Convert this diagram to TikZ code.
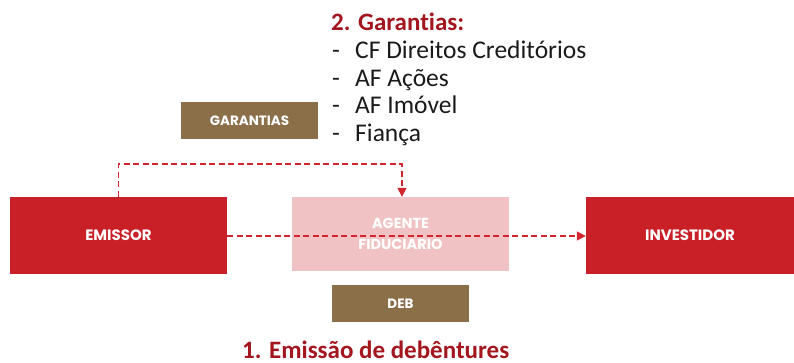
\documentclass[tikz,border=0pt]{standalone}
\usepackage{fontspec}
\setmainfont{Carlito}[Ligatures=NoCommon]
\newfontfamily\boxfont{Poppins}
\usetikzlibrary{arrows.meta}
\definecolor{boxred}{HTML}{C91F26}
\definecolor{boxpink}{HTML}{F0C2C4}
\definecolor{boxbrown}{HTML}{8B6F48}
\definecolor{titlered}{HTML}{A3161D}
\definecolor{linered}{HTML}{D0262F}
\definecolor{txtgray}{HTML}{1A1A1A}
\tikzset{
  partybox/.style={fill=boxred, draw=none, inner sep=0pt, text=white,
    font=\boxfont\bfseries\fontsize{15}{16}\selectfont, align=center},
  agentbox/.style={fill=boxpink, draw=none, inner sep=0pt, text=white,
    font=\boxfont\bfseries\fontsize{14.5}{21}\selectfont, align=center},
  tagbox/.style={fill=boxbrown, draw=none, inner sep=0pt, text=white,
    font=\boxfont\bfseries\fontsize{13.5}{14}\selectfont, align=center},
  flow/.style={draw=linered, line width=1.6pt, dash pattern=on 6pt off 3.5pt,
    -{Triangle[length=9pt,width=9pt]}},
  listtxt/.style={anchor=base west, inner sep=0pt, text=txtgray,
    font=\fontsize{25.5}{28}\selectfont},
  headtxt/.style={anchor=base west, inner sep=0pt, text=titlered,
    font=\bfseries\fontsize{25}{28}\selectfont}
}
\begin{document}
\begin{tikzpicture}[x=1pt,y=-1pt]
\useasboundingbox (0,0) rectangle (794,363);
% boxes
\node[partybox, minimum width=217pt, minimum height=77pt] (emissor) at (118.5,235.5) {EMISSOR};
\node[agentbox, minimum width=217pt, minimum height=74pt] (agente) at (400.5,234) {AGENTE\\FIDUCIARIO};
\node[partybox, minimum width=208pt, minimum height=77pt] (investidor) at (690,235.5) {INVESTIDOR};
\node[tagbox, minimum width=137pt, minimum height=37pt] (deb) at (400.5,303.5) {DEB};
\node[tagbox, minimum width=137pt, minimum height=37pt] (garantias) at (249.5,120.5) {GARANTIAS};
% texts
\node[headtxt] (head2) at (331,31) {2. Garantias:};
\node[listtxt] (d1) at (332,59) {-};
\node[listtxt] (i1) at (355,59) {CF Direitos Creditórios};
\node[listtxt] (d2) at (332,87) {-};
\node[listtxt] (i2) at (355,87) {AF Ações};
\node[listtxt] (d3) at (332,114) {-};
\node[listtxt] (i3) at (355,114) {AF Imóvel};
\node[listtxt] (d4) at (332,142) {-};
\node[listtxt] (i4) at (355,142) {Fiança};
\node[headtxt] (head1) at (242,358) {1. Emissão de debêntures};
% connectors
\coordinate (bend) at (402,164);
\draw[flow] (emissor.north) |- (bend) -- (bend |- agente.north);
\draw[flow] ([yshift=-0.5pt]emissor.east) -- ([yshift=-0.5pt]investidor.west);
\end{tikzpicture}
\end{document}
